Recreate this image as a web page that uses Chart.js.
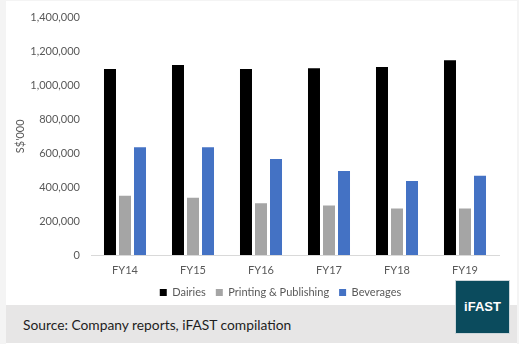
<!DOCTYPE html>
<html>
<head>
<meta charset="utf-8">
<script src="https://cdn.jsdelivr.net/npm/chart.js@4"></script>
<style>
  html, body { margin: 0; padding: 0; }
  body { width: 519px; height: 344px; background: #f4f4f4; position: relative; overflow: hidden; font-family: Lato, "Liberation Sans", sans-serif; }
  #panel { position: absolute; left: 6px; top: 1px; width: 511px; height: 343px; background: #ffffff; }
  #chart { position: absolute; left: 0; top: 0; }
  #band { position: absolute; left: 6px; top: 305px; width: 511px; height: 38px; background: #e7e6e6; }
  #source { position: absolute; left: 23px; top: 316px; font-size: 13.8px; color: #1e1e1e; white-space: nowrap; line-height: 18px; }
  #logo { position: absolute; left: 455px; top: 280px; width: 53px; height: 52px; background: #0b4b5d; border: 1px solid #cdd6da;
          color: #ffffff; font-family: "Liberation Sans", Arial, sans-serif; font-weight: bold; font-size: 13px; line-height: 52px; text-align: center; }
</style>
</head>
<body>
<div id="panel"></div>
<canvas id="chart" width="519" height="308"></canvas>
<div id="band"></div>
<div id="source">Source: Company reports, iFAST compilation</div>
<div id="logo">iFAST</div>
<script>
// data
var categories = ['FY14', 'FY15', 'FY16', 'FY17', 'FY18', 'FY19'];
var dairies = [1097000, 1120000, 1097000, 1102000, 1108000, 1149000];
var printing = [350000, 338000, 305000, 292000, 274000, 274000];
var beverages = [636000, 636000, 566000, 496000, 437000, 467000];
var yMax = 1400000;
var yStep = 200000;

var textColor = '#595959';

// legend in the original sits right of the canvas centre
var legendShift = {
    id: 'legendShift',
    afterLayout: function(chart) {
        chart.legend.left += 27;
        chart.legend.right += 27;
    }
};

new Chart(document.getElementById('chart'), {
    type: 'bar',
    data: {
        labels: categories,
        datasets: [
            { label: 'Dairies', data: dairies, backgroundColor: '#000000' },
            { label: 'Printing & Publishing', data: printing, backgroundColor: '#a5a5a5' },
            { label: 'Beverages', data: beverages, backgroundColor: '#4472c4' }
        ]
    },
    plugins: [legendShift],
    options: {
        responsive: false,
        animation: false,
        layout: { padding: { left: 8, right: 20, top: 9, bottom: 0 } },
        datasets: { bar: { categoryPercentage: 0.662, barPercentage: 0.8 } },
        plugins: {
            tooltip: { enabled: false },
            legend: {
                position: 'bottom',
                labels: {
                    color: textColor,
                    boxWidth: 7,
                    boxHeight: 7,
                    padding: 10,
                    font: { family: 'Lato', size: 11 }
                }
            }
        },
        scales: {
            x: {
                grid: { display: false, drawTicks: false },
                border: { color: '#d9d9d9', width: 1 },
                ticks: { color: textColor, padding: 9, font: { family: 'Lato', size: 11 } },
                afterFit: function(scale) { scale.height = 22; }
            },
            y: {
                min: 0,
                max: yMax,
                grid: { display: false, drawTicks: false },
                border: { display: false },
                ticks: {
                    stepSize: yStep,
                    color: textColor,
                    padding: 11,
                    font: { family: 'Lato', size: 11 },
                    callback: function(v) { return v.toLocaleString('en-US'); }
                },
                title: {
                    display: true,
                    text: "S$'000",
                    color: textColor,
                    padding: { top: 6, bottom: 0 },
                    font: { family: 'Lato', size: 11 }
                },
                afterFit: function(scale) { scale.width = 83; }
            }
        }
    }
});
</script>
</body>
</html>
